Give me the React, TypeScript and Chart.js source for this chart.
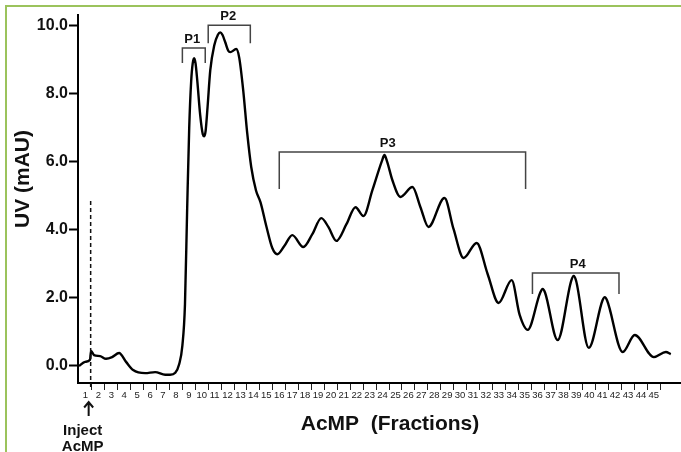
import React, { useEffect, useRef } from "react";
import { Chart, registerables } from "chart.js";

Chart.register(...registerables);

// Fraction position (x) and UV absorbance in mAU (y)
const fractionPos = [
  0, 0.47, 0.85, 0.93, 1.16, 1.63, 2.09, 2.56, 3.1, 3.64, 4.19, 5.12, 5.89, 6.67, 7.05, 7.45,
  7.75, 8.0, 8.2, 8.37, 8.53, 8.68, 8.8, 8.91, 9.02, 9.15, 9.38, 9.58, 9.69, 9.8, 9.95, 10.16,
  10.47, 10.75, 10.93, 11.1, 11.32, 11.55, 11.71, 12.17, 12.4, 12.71, 13.02, 13.33, 13.7,
  14.05, 14.5, 14.96, 15.35, 15.89, 16.51, 17.36, 18.06, 18.76, 19.3, 19.92, 20.7, 21.4,
  22.02, 22.71, 23.45, 23.64, 23.85, 24.26, 24.88, 25.81, 26.43, 27.05, 28.29, 28.99, 29.77,
  30.78, 31.63, 32.48, 33.49, 34.11, 34.73, 35.7, 35.89, 36.08, 37.05, 38.1, 38.29, 38.48,
  39.46, 40.52, 40.7, 40.88, 42.09, 43.02, 44.5, 45.43, 45.81,
];
const uvValues = [
  0.0, 0.12, 0.18, 0.44, 0.32, 0.29, 0.21, 0.26, 0.38, 0.12, -0.12, -0.21, -0.18, -0.26, -0.26,
  -0.2, 0.05, 0.6, 1.8, 4.6, 7.0, 8.35, 8.88, 9.03, 8.88, 8.39, 7.36, 6.8, 6.74, 6.9, 7.6, 8.68,
  9.41, 9.72, 9.79, 9.72, 9.5, 9.25, 9.21, 9.3, 9.05, 8.09, 6.83, 5.84, 5.15, 4.8, 4.1, 3.46,
  3.28, 3.52, 3.84, 3.49, 3.87, 4.34, 4.08, 3.67, 4.16, 4.66, 4.4, 5.16, 6.02, 6.19, 6.0, 5.45,
  4.96, 5.25, 4.66, 4.08, 4.93, 4.02, 3.17, 3.61, 2.7, 1.85, 2.52, 1.5, 1.06, 2.15, 2.26, 2.15,
  0.76, 2.5, 2.64, 2.5, 0.53, 1.92, 2.02, 1.92, 0.41, 0.91, 0.26, 0.41, 0.35,
];

const xTickValues = [
  1, 2, 3, 4, 5, 6, 7, 8, 9, 10, 11, 12, 13, 14, 15, 16, 17, 18, 19, 20, 21, 22, 23, 24, 25,
  26, 27, 28, 29, 30, 31, 32, 33, 34, 35, 36, 37, 38, 39, 40, 41, 42, 43, 44, 45,
];
const yTickValues = [0, 2, 4, 6, 8, 10];

// Peak-pool brackets (data units)
const bracketLabels = ["P1", "P2", "P3", "P4"];
const bracketStart = [8.0, 10.0, 15.5, 35.1];
const bracketEnd = [9.77, 13.26, 34.57, 41.8];
const bracketTop = [9.33, 10.0, 6.28, 2.73];
const bracketBottom = [8.89, 9.47, 5.19, 2.11];
const bracketLabelX = [8.76, 11.55, 23.9, 38.6];

// Injection marker
const injectFraction = 0.9;
const injectLineTop = 4.84;
const injectText = ["Inject", "AcMP"];

const yTitle = "UV (mAU)";
const xTitle = "AcMP  (Fractions)";

const FONT = "'Liberation Sans', Arial, Helvetica, sans-serif";

const annotationPlugin = {
  id: "annotations",
  afterDatasetsDraw(chart: any) {
    const ctx = chart.ctx as CanvasRenderingContext2D;
    const xs = chart.scales.x;
    const ys = chart.scales.y;
    ctx.save();

    // brackets
    ctx.strokeStyle = "#444";
    ctx.lineWidth = 1.5;
    ctx.fillStyle = "#111";
    ctx.font = `bold 13px ${FONT}`;
    ctx.textAlign = "center";
    ctx.textBaseline = "middle";
    for (let i = 0; i < bracketLabels.length; i++) {
      const x0 = xs.getPixelForValue(bracketStart[i]);
      const x1 = xs.getPixelForValue(bracketEnd[i]);
      const yt = ys.getPixelForValue(bracketTop[i]);
      const yb = ys.getPixelForValue(bracketBottom[i]);
      ctx.beginPath();
      ctx.moveTo(x0, yb);
      ctx.lineTo(x0, yt);
      ctx.lineTo(x1, yt);
      ctx.lineTo(x1, yb);
      ctx.stroke();
      ctx.fillText(bracketLabels[i], xs.getPixelForValue(bracketLabelX[i]), yt - 9);
    }

    // injection dashed line
    const ix = xs.getPixelForValue(injectFraction);
    ctx.strokeStyle = "#111";
    ctx.lineWidth = 1.5;
    ctx.setLineDash([4, 3]);
    ctx.beginPath();
    ctx.moveTo(ix, ys.getPixelForValue(injectLineTop));
    ctx.lineTo(ix, chart.chartArea.bottom + 6);
    ctx.stroke();
    ctx.setLineDash([]);

    // arrow
    const ay0 = chart.chartArea.bottom + 19;
    const ay1 = chart.chartArea.bottom + 33;
    const ax = ix - 2;
    ctx.lineWidth = 2;
    ctx.beginPath();
    ctx.moveTo(ax, ay1);
    ctx.lineTo(ax, ay0 + 1);
    ctx.moveTo(ax - 4.5, ay0 + 5.5);
    ctx.lineTo(ax, ay0);
    ctx.lineTo(ax + 4.5, ay0 + 5.5);
    ctx.stroke();

    // inject text
    ctx.font = `bold 15px ${FONT}`;
    ctx.fillStyle = "#111";
    ctx.textAlign = "center";
    ctx.fillText(injectText[0], ix - 8, chart.chartArea.bottom + 48);
    ctx.fillText(injectText[1], ix - 8, chart.chartArea.bottom + 64);

    // axis titles
    ctx.font = `bold 21px ${FONT}`;
    ctx.fillText(xTitle, 390, chart.chartArea.bottom + 41);
    ctx.save();
    ctx.translate(23, 179);
    ctx.rotate(-Math.PI / 2);
    ctx.fillText(yTitle, 0, 0);
    ctx.restore();

    ctx.restore();
  },
};

export default function App() {
  const canvasRef = useRef<HTMLCanvasElement | null>(null);

  useEffect(() => {
    if (!canvasRef.current) return;
    const points = fractionPos.map((x, i) => ({ x, y: uvValues[i] }));
    const chart = new Chart(canvasRef.current, {
      type: "line",
      data: {
        datasets: [
          {
            data: points,
            borderColor: "#000",
            borderWidth: 2.4,
            pointRadius: 0,
            cubicInterpolationMode: "monotone",
            fill: false,
          },
        ],
      },
      options: {
        animation: false,
        responsive: true,
        maintainAspectRatio: false,
        layout: { padding: { top: 15, left: 0, right: 0, bottom: 0 } },
        plugins: {
          legend: { display: false },
          tooltip: { enabled: false },
          title: { display: false },
        },
        scales: {
          x: {
            type: "linear",
            min: -0.08,
            max: 46.6,
            afterBuildTicks: (s: any) => {
              s.ticks = xTickValues.map((v) => ({ value: v }));
            },
            afterFit: (s: any) => {
              s.height = 69;
            },
            border: { color: "#000", width: 2 },
            grid: {
              drawOnChartArea: false,
              drawTicks: true,
              tickLength: 7,
              tickWidth: 1,
              tickColor: "#222",
            },
            ticks: {
              autoSkip: false,
              maxRotation: 0,
              minRotation: 0,
              labelOffset: -6.5,
              padding: 0,
              color: "#222",
              font: { family: FONT, size: 9.5 },
              callback: (v: any) => String(v),
            },
          },
          y: {
            type: "linear",
            min: -0.5,
            max: 10.3,
            afterBuildTicks: (s: any) => {
              s.ticks = yTickValues.map((v) => ({ value: v }));
            },
            afterFit: (s: any) => {
              s.width = 78;
            },
            border: { color: "#000", width: 2 },
            grid: {
              drawOnChartArea: false,
              drawTicks: true,
              tickLength: 9,
              tickWidth: 2,
              tickColor: "#000",
            },
            ticks: {
              padding: 1,
              color: "#111",
              font: { family: FONT, size: 16, weight: "bold" },
              callback: (v: any) => Number(v).toFixed(1),
            },
          },
        },
      },
      plugins: [annotationPlugin],
    });
    return () => chart.destroy();
  }, []);

  return (
    <div
      style={{
        position: "fixed",
        left: 0,
        top: 0,
        width: 681,
        height: 452,
        background: "#fff",
        overflow: "hidden",
      }}
    >
      <div
        style={{
          position: "absolute",
          left: 5,
          top: 5,
          right: -10,
          bottom: -10,
          borderTop: "2px solid #9bc35c",
          borderLeft: "2px solid #9bc35c",
        }}
      />
      <canvas ref={canvasRef} style={{ position: "absolute", left: 0, top: 0, width: 681, height: 452 }} />
    </div>
  );
}
